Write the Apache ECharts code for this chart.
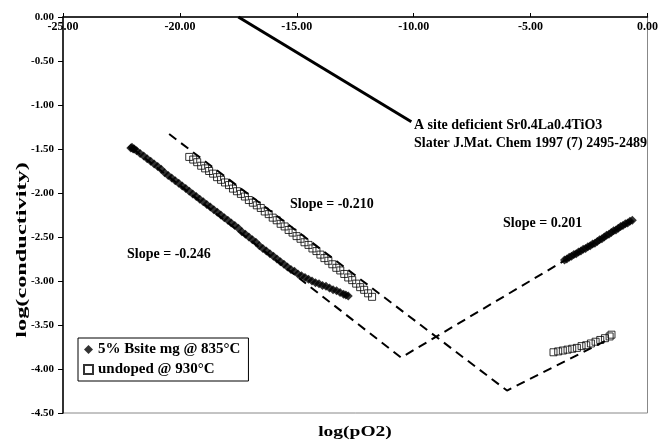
<!DOCTYPE html>
<html>
<head>
<meta charset="utf-8">
<script src="https://cdn.jsdelivr.net/npm/echarts@6/dist/echarts.min.js"></script>
<style>
html,body{margin:0;padding:0;background:#fff;}
#c{width:661px;height:443px;}
</style>
</head>
<body>
<div id="c"></div>
<script>
// ---- data ----
const seriesNames = ['5% Bsite mg @ 835°C', 'undoped @ 930°C'];
const xAxisTitle = 'log(pO2)';
const yAxisTitle = 'log(conductivity)';
const xTicks = [-25, -20, -15, -10, -5, 0];
const yTicks = [0, -0.5, -1, -1.5, -2, -2.5, -3, -3.5, -4, -4.5];

// 5% Bsite mg @ 835°C (low pO2 branch)
const bsiteLowX = [-22.10,-22.05,-22.00,-21.95,-21.85,-21.70,-21.55,-21.40,-21.25,-21.10,-20.95,-20.80,-20.65,-20.50,-20.35,-20.20,-20.05,-19.90,-19.75,-19.60,-19.45,-19.30,-19.15,-19.00,-18.85,-18.70,-18.55,-18.40,-18.25,-18.10,-17.95,-17.80,-17.65,-17.50,-17.35,-17.20,-17.05,-16.90,-16.75,-16.60,-16.45,-16.30,-16.15,-16.00,-15.85,-15.70,-15.55,-15.40,-15.25,-15.10,-14.95,-14.80,-14.65,-14.50,-14.35,-14.20,-14.05,-13.90,-13.75,-13.60,-13.45,-13.30,-13.15,-13.00,-12.90,-12.80];
const bsiteLowY = [-1.49,-1.48,-1.50,-1.50,-1.52,-1.55,-1.58,-1.61,-1.64,-1.67,-1.70,-1.73,-1.77,-1.80,-1.83,-1.86,-1.89,-1.92,-1.95,-1.98,-2.01,-2.04,-2.07,-2.10,-2.13,-2.16,-2.19,-2.22,-2.25,-2.28,-2.31,-2.34,-2.37,-2.40,-2.44,-2.47,-2.50,-2.53,-2.56,-2.60,-2.63,-2.66,-2.69,-2.72,-2.75,-2.78,-2.81,-2.84,-2.87,-2.89,-2.92,-2.94,-2.96,-2.98,-3.00,-3.02,-3.03,-3.05,-3.06,-3.08,-3.10,-3.11,-3.13,-3.15,-3.16,-3.17];
// 5% Bsite mg @ 835°C (high pO2 branch)
const bsiteHighX = [-3.55,-3.45,-3.35,-3.25,-3.15,-3.05,-2.95,-2.85,-2.75,-2.65,-2.55,-2.45,-2.35,-2.25,-2.15,-2.05,-1.95,-1.85,-1.75,-1.65,-1.55,-1.45,-1.35,-1.25,-1.15,-1.05,-0.95,-0.85,-0.75,-0.65];
const bsiteHighY = [-2.76,-2.75,-2.73,-2.72,-2.70,-2.69,-2.67,-2.66,-2.64,-2.63,-2.61,-2.60,-2.58,-2.57,-2.55,-2.53,-2.52,-2.50,-2.48,-2.47,-2.45,-2.43,-2.42,-2.40,-2.38,-2.37,-2.35,-2.34,-2.32,-2.31];
// undoped @ 930°C (low pO2 branch)
const undopedLowX = [-19.60,-19.43,-19.26,-19.09,-18.92,-18.75,-18.58,-18.41,-18.24,-18.07,-17.90,-17.73,-17.56,-17.39,-17.22,-17.05,-16.88,-16.71,-16.54,-16.37,-16.20,-16.03,-15.86,-15.69,-15.52,-15.35,-15.18,-15.01,-14.84,-14.67,-14.50,-14.33,-14.16,-13.99,-13.82,-13.65,-13.48,-13.31,-13.14,-12.97,-12.80,-12.63,-12.46,-12.29,-12.12,-11.95,-11.78];
const undopedLowY = [-1.59,-1.62,-1.65,-1.69,-1.72,-1.75,-1.78,-1.82,-1.85,-1.88,-1.91,-1.95,-1.98,-2.01,-2.04,-2.08,-2.11,-2.14,-2.17,-2.21,-2.24,-2.28,-2.31,-2.35,-2.38,-2.42,-2.45,-2.49,-2.52,-2.56,-2.59,-2.63,-2.66,-2.70,-2.74,-2.77,-2.81,-2.85,-2.88,-2.92,-2.96,-2.99,-3.03,-3.07,-3.10,-3.14,-3.18];
// undoped @ 930°C (high pO2 branch)
const undopedHighX = [-4.02,-3.82,-3.62,-3.42,-3.22,-3.02,-2.82,-2.62,-2.42,-2.22,-2.02,-1.82,-1.62,-1.54];
const undopedHighY = [-3.81,-3.80,-3.79,-3.78,-3.77,-3.76,-3.74,-3.73,-3.71,-3.69,-3.67,-3.65,-3.63,-3.61];

// fitted lines
const fitBsiteX = [-22.0, -10.54, -0.65];
const fitBsiteY = [-1.50, -3.87, -2.31];
const fitUndopedX = [-20.46, -6.01, -1.76];
const fitUndopedY = [-1.33, -4.245, -3.675];
const slaterX = [-17.5, -10.1];
const slaterY = [0, -1.19];

const annoText1 = 'A site deficient Sr0.4La0.4TiO3';
const annoText2 = 'Slater J.Mat. Chem 1997 (7) 2495-2489';
const slopeLabels = ['Slope = -0.246', 'Slope = -0.210', 'Slope = 0.201'];

const zip = (a, b) => a.map((v, i) => [v, b[i]]);
const FONT = '"Liberation Serif", "Times New Roman", serif';

const chart = echarts.init(document.getElementById('c'));
chart.setOption({
  animation: false,
  backgroundColor: '#fff',
  grid: { left: 63, top: 17, right: 10, bottom: 30, show: true, borderColor: '#888', borderWidth: 1, backgroundColor: 'transparent' },
  xAxis: {
    type: 'value', min: xTicks[0], max: xTicks[xTicks.length - 1], interval: 5, position: 'top',
    axisLine: { onZero: false, lineStyle: { color: '#000', width: 1.5 } },
    axisTick: { inside: false, length: 4, lineStyle: { color: '#000' } },
    axisLabel: { inside: true, margin: 4, color: '#000', fontFamily: FONT, fontWeight: 'bold', fontSize: 12, formatter: v => v.toFixed(2), showMaxLabel: true, showMinLabel: true },
    splitLine: { show: false }
  },
  yAxis: {
    type: 'value', min: yTicks[yTicks.length - 1], max: yTicks[0], interval: 0.5,
    axisLine: { onZero: false, lineStyle: { color: '#000', width: 1.5 } },
    axisTick: { length: 5, lineStyle: { color: '#000' } },
    axisLabel: { margin: 9, color: '#000', fontFamily: FONT, fontWeight: 'bold', fontSize: 11, formatter: v => v.toFixed(2) },
    splitLine: { show: false }
  },
  legend: {
    data: seriesNames, orient: 'vertical', left: 78, top: 338,
    backgroundColor: '#fff', borderColor: '#000', borderWidth: 1,
    padding: [4, 8, 4, 5], itemGap: 5, itemWidth: 9, itemHeight: 9,
    textStyle: { color: '#000', fontFamily: FONT, fontWeight: 'bold', fontSize: 15, lineHeight: 15 }
  },
  graphic: [
    { type: 'text', x: 22, y: 250, rotation: Math.PI / 2, scaleX: 1.62, style: { text: yAxisTitle, fill: '#000', font: 'bold 15px ' + FONT, align: 'center', verticalAlign: 'middle' } },
    { type: 'text', x: 355, y: 432, scaleX: 1.3, style: { text: xAxisTitle, fill: '#000', font: 'bold 15px ' + FONT, align: 'center', verticalAlign: 'middle' } },
    { type: 'text', left: 414, top: 118, style: { text: annoText1, fill: '#000', font: 'bold 14px ' + FONT } },
    { type: 'text', left: 414, top: 136, style: { text: annoText2, fill: '#000', font: 'bold 14px ' + FONT } },
    { type: 'text', left: 127, top: 247, style: { text: slopeLabels[0], fill: '#000', font: 'bold 14px ' + FONT } },
    { type: 'text', left: 290, top: 197, style: { text: slopeLabels[1], fill: '#000', font: 'bold 14px ' + FONT } },
    { type: 'text', left: 503, top: 216, style: { text: slopeLabels[2], fill: '#000', font: 'bold 14px ' + FONT } }
  ],
  series: [
    { name: 'slater', type: 'line', data: zip(slaterX, slaterY), symbol: 'none', lineStyle: { color: '#000', width: 3 }, z: 2 },
    { name: 'fitBsite', type: 'line', data: zip(fitBsiteX, fitBsiteY), symbol: 'none', lineStyle: { color: '#000', width: 2, type: [9, 6] }, z: 2 },
    { name: 'fitUndoped', type: 'line', data: zip(fitUndopedX, fitUndopedY), symbol: 'none', lineStyle: { color: '#000', width: 2, type: [9, 6] }, z: 2 },
    { name: seriesNames[0], type: 'scatter', data: zip(bsiteLowX, bsiteLowY).concat(zip(bsiteHighX, bsiteHighY)), symbol: 'diamond', symbolSize: 9, itemStyle: { color: '#000' }, z: 3 },
    { name: seriesNames[1], type: 'scatter', data: zip(undopedLowX, undopedLowY).concat(zip(undopedHighX, undopedHighY)), symbol: 'rect', symbolSize: 7, itemStyle: { color: 'rgba(255,255,255,0)', borderColor: '#000', borderWidth: 1 }, z: 4 }
  ]
});
</script>
</body>
</html>
